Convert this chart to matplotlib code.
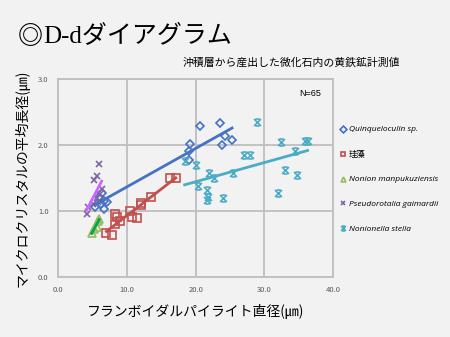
import numpy as np
import matplotlib
matplotlib.use("Agg")
import matplotlib.pyplot as plt
from matplotlib.path import Path
from matplotlib.lines import Line2D

# data
quin_x = [19.2, 20.7, 23.5, 24.2, 25.3, 23.9, 19.0, 19.0, 6.3, 6.65, 7.05, 6.65, 5.97, 6.17, 5.3]
quin_y = [2.02, 2.28, 2.33, 2.14, 2.07, 2.00, 1.91, 1.77, 1.27, 1.15, 1.14, 1.02, 1.21, 1.10, 1.06]

diat_x = [7.0, 7.8, 8.25, 8.6, 8.2, 9.0, 10.5, 10.7, 11.4, 12.0, 12.1, 13.5, 16.3, 17.1]
diat_y = [0.67, 0.64, 0.95, 0.90, 0.80, 0.85, 0.99, 0.90, 0.89, 1.09, 1.12, 1.21, 1.50, 1.49]

nonion_x = [4.85, 5.2, 5.6, 5.8, 5.95]
nonion_y = [0.66, 0.73, 0.76, 0.85, 0.88]

pseudo_x = [4.13, 4.37, 5.24, 5.68, 5.93, 6.3, 5.6, 5.8, 5.0, 6.1]
pseudo_y = [0.95, 1.05, 1.46, 1.53, 1.71, 1.33, 1.19, 1.14, 1.10, 1.25]

stella_x = [29.0, 32.5, 35.9, 36.3, 27.0, 27.9, 34.4, 33.0, 34.8, 32.0,
            25.5, 20.0, 18.4, 22.0, 22.6, 20.3, 21.6, 21.8, 21.6, 24.0]
stella_y = [2.35, 2.04, 2.06, 2.06, 1.84, 1.84, 1.91, 1.62, 1.54, 1.27,
            1.57, 1.69, 1.76, 1.58, 1.50, 1.37, 1.32, 1.21, 1.17, 1.20]

x_ticks = [0, 10, 20, 30, 40]
y_ticks = [0, 1, 2, 3]

# Excel-like "star" marker: X with caps
star = Path(
    [(-1, -1), (1, 1), (-1, 1), (1, -1), (-0.6, 1), (0.6, 1), (-0.6, -1), (0.6, -1)],
    [Path.MOVETO, Path.LINETO, Path.MOVETO, Path.LINETO,
     Path.MOVETO, Path.LINETO, Path.MOVETO, Path.LINETO],
)

series = [
    (quin_x, quin_y, "Quinqueloculin sp.", "#4472C4", "D", "#4472C4", 4.5, "italic"),
    (diat_x, diat_y, "珪藻", "#C0504D", "s", "#C0504D", 5.5, "normal"),
    (nonion_x, nonion_y, "Nonion manpukuziensis", "#9BBB59", "^", "#00A651", 6, "italic"),
    (pseudo_x, pseudo_y, "Pseudorotalia gaimardii", "#8064A2", "x", "#CC66FF", 5, "italic"),
    (stella_x, stella_y, "Nonionella stella", "#4BACC6", star, "#4BACC6", 5, "italic"),
]

jp = ["Noto Sans CJK JP", "DejaVu Sans"]
plt.rcParams["font.family"] = jp

fig = plt.figure(figsize=(4.5, 3.37), dpi=100, facecolor="#f2f2f2")
ax = fig.add_axes([0.1296, 0.179, 0.6104, 0.5866], facecolor="#f2f2f2")

handles = []
for xs, ys, label, color, marker, lcolor, ms, _ in series:
    xs = np.array(xs)
    ys = np.array(ys)
    ax.plot(xs, ys, linestyle="none", marker=marker, markersize=ms,
            markerfacecolor="none", markeredgecolor=color, markeredgewidth=1.2, zorder=3)
    k, b = np.polyfit(xs, ys, 1)
    lx = np.array([xs.min(), xs.max()])
    ax.plot(lx, k * lx + b, color=lcolor, linewidth=2, zorder=4)
    handles.append(Line2D([], [], linestyle="none", marker=marker, markersize=3.5,
                          markerfacecolor="none", markeredgecolor=color,
                          markeredgewidth=1.2, label=label))

ax.set_xlim(0, 40)
ax.set_ylim(0, 3)
ax.set_xticks(x_ticks)
ax.set_yticks(y_ticks)
ax.set_xticklabels([f"{v:.1f}" for v in x_ticks])
ax.set_yticklabels([f"{v:.1f}" for v in y_ticks])
ax.tick_params(length=0, labelsize=5.5, colors="#595959", pad=7)
ax.grid(True, color="#bfbfbf", linewidth=1.3)
ax.set_axisbelow(True)
for s in ax.spines.values():
    s.set_color("#bfbfbf")
    s.set_linewidth(1.3)

ax.set_xlabel("フランボイダルパイライト直径(㎛)", fontsize=10, labelpad=7)
ax.set_ylabel("マイクロクリスタルの平均長径(㎛)", fontsize=10, labelpad=6)

ax.text(0.955, 0.95, "N=65", transform=ax.transAxes, ha="right", va="top",
        fontsize=6.5, family=["Liberation Sans", "DejaVu Sans"])

leg = fig.legend(handles=handles, loc="upper left", bbox_to_anchor=(0.747, 0.637),
                 frameon=False, fontsize=6, labelspacing=2.05, handlelength=0.8,
                 handletextpad=0.3, borderaxespad=0)
for t, s in zip(leg.get_texts(), series):
    t.set_fontstyle(s[7])
    t.set_family(["Open Sans", "Noto Sans CJK JP"])

# title: the ring sign in the CJK face, "D-d" in a serif face
ring = fig.text(18 / 450, 1 - 37 / 337, "◎", fontsize=18, va="center",
                fontweight="bold", family=["Noto Sans CJK JP"])
fig.canvas.draw()
bb = ring.get_window_extent()
fig.text(bb.x1 / fig.bbox.width, 1 - 37 / 337, "D-dダイアグラム", fontsize=18,
         va="center", family=["Liberation Serif", "Noto Sans CJK JP"])
fig.text(183 / 450, 1 - 63 / 337, "沖積層から産出した微化石内の黄鉄鉱計測値",
         fontsize=7.8, va="center")

fig.savefig("out.png", dpi=100, facecolor=fig.get_facecolor())
